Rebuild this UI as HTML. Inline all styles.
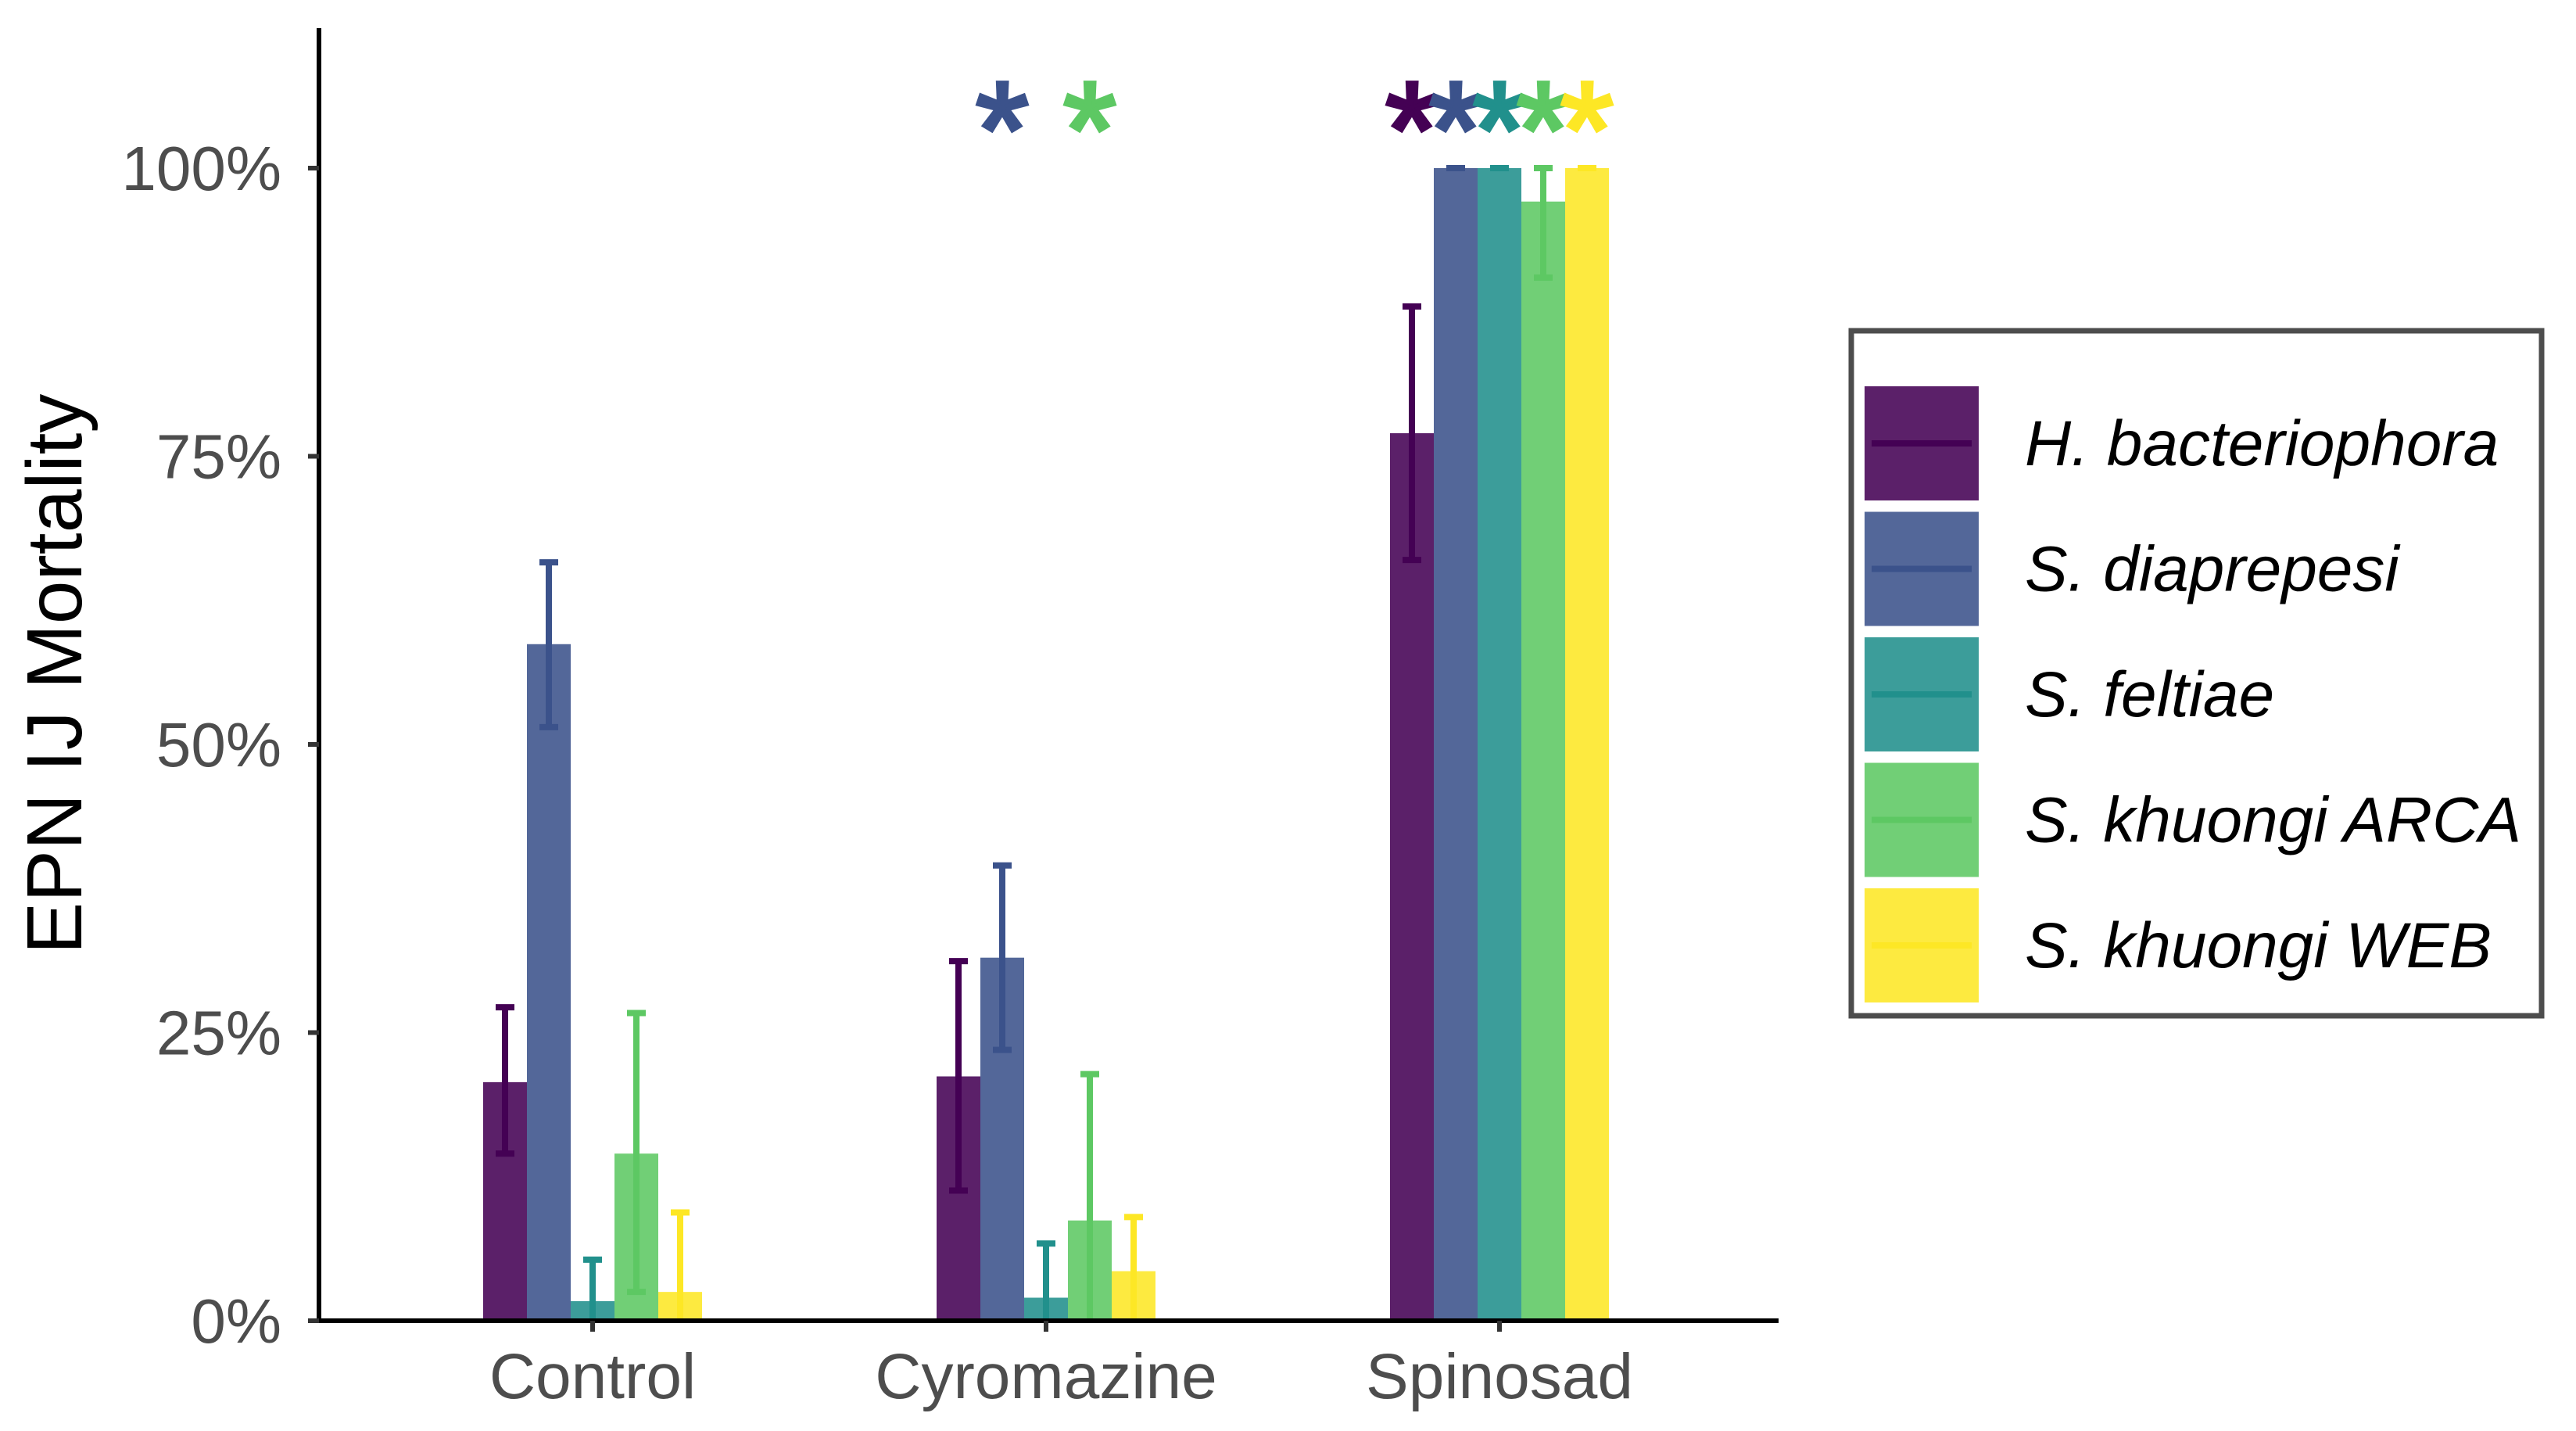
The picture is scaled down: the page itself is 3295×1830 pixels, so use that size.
<!DOCTYPE html>
<html><head><meta charset="utf-8"><style>
html,body{margin:0;padding:0;background:#fff;}
svg{display:block;font-family:"Liberation Sans",Arial,sans-serif;}
</style></head><body>
<svg id="chart" width="3295" height="1830" viewBox="0 0 3295 1830">
<g id="bars"></g>
<g id="axes"></g>
<text x="0" y="0" transform="translate(104,862) rotate(-90)" text-anchor="middle" font-size="100" fill="#000">EPN IJ Mortality</text>
<g id="legend">
<rect x="2380" y="423" width="883" height="876" fill="#fff" stroke="#4d4d4d" stroke-width="7"/>
</g>
</svg>
<script>
const categories = ["Control", "Cyromazine", "Spinosad"];
const species = ["H. bacteriophora", "S. diaprepesi", "S. feltiae", "S. khuongi ARCA", "S. khuongi WEB"];
const colors = ["#440154", "#3b528b", "#21908c", "#5dc863", "#fde725"];
const meanControl = [20.7, 58.7, 1.7, 14.5, 2.5];
const meanCyromazine = [21.2, 31.5, 2.0, 8.7, 4.3];
const meanSpinosad = [77.0, 100, 100, 97.1, 100];
const lowControl = [14.5, 51.5, 0, 2.5, 0];
const lowCyromazine = [11.3, 23.5, 0, 0, 0];
const lowSpinosad = [66.0, 100, 100, 90.5, 100];
const highControl = [27.2, 65.8, 5.3, 26.7, 9.4];
const highCyromazine = [31.2, 39.5, 6.7, 21.4, 9.0];
const highSpinosad = [88.0, 100, 100, 100, 100];
const signifCyromazine = [false, true, false, true, false];
const signifSpinosad = [true, true, true, true, true];
const signifControl = [false, false, false, false, false];
const yTicks = [0, 25, 50, 75, 100];
const yTickLabels = ["0%", "25%", "50%", "75%", "100%"];

const means = [meanControl, meanCyromazine, meanSpinosad];
const lows = [lowControl, lowCyromazine, lowSpinosad];
const highs = [highControl, highCyromazine, highSpinosad];
const sigs = [signifControl, signifCyromazine, signifSpinosad];

const NS = "http://www.w3.org/2000/svg";
const X0 = 408, X1 = 2275, Y0 = 1689, Y100 = 215;
const catX0 = 758, catStep = 580, barW = 56;
function y(v){ return Y0 - (v/100)*(Y0-Y100); }
function xCat(i){ return catX0 + i*catStep; }
function xBar(i,j){ return xCat(i) + (j-2)*barW; }
function mk(tag, attrs, parent){
  const e = document.createElementNS(NS, tag);
  for (const k in attrs) e.setAttribute(k, attrs[k]);
  parent.appendChild(e); return e;
}
const bars = document.getElementById("bars");
const axes = document.getElementById("axes");
const legend = document.getElementById("legend");
const lbox = legend.querySelector("rect");
lbox.setAttribute("x", 2368);

categories.forEach((c,i)=>{
  species.forEach((s,j)=>{
    const v = means[i][j];
    const r = mk("rect", {x: xBar(i,j)-barW/2, y: y(v), width: barW, height: y(0)-y(v), fill: colors[j], "fill-opacity": 0.88}, bars);
    
    
  });
  species.forEach((s,j)=>{
    const lo = Math.max(lows[i][j],0), hi = highs[i][j], cx = xBar(i,j);
    const g = mk("g", {stroke: colors[j], "stroke-width": 8, fill: "none"}, bars);
    
    
    mk("line", {x1: cx, x2: cx, y1: y(lo), y2: y(hi)}, g);
    mk("line", {x1: cx-12, x2: cx+12, y1: y(hi), y2: y(hi)}, g);
    if (lows[i][j] > 0) mk("line", {x1: cx-12, x2: cx+12, y1: y(lo), y2: y(lo)}, g);
  });
  species.forEach((s,j)=>{
    if (!sigs[i][j]) return;
    const t = mk("text", {x: xBar(i,j), y: 226, "text-anchor": "middle", "font-size": 175, fill: colors[j], stroke: colors[j], "stroke-width": 5}, bars);
    t.textContent = "*";
    
    
  });
});

const ya = mk("line", {x1: X0, x2: X0, y1: 36, y2: Y0+3, stroke: "#000", "stroke-width": 6}, axes);


const xa = mk("line", {x1: X0-3, x2: X1, y1: Y0, y2: Y0, stroke: "#000", "stroke-width": 6}, axes);


yTicks.forEach((v,k)=>{
  const tk = mk("line", {x1: X0-14, x2: X0, y1: y(v), y2: y(v), stroke: "#333", "stroke-width": 6}, axes);
  
  
  const t = mk("text", {x: 360, y: y(v)+28, "text-anchor": "end", "font-size": 80, fill: "#4d4d4d"}, axes);
  t.textContent = yTickLabels[k];
  
  
});
categories.forEach((c,i)=>{
  const tk = mk("line", {x1: xCat(i), x2: xCat(i), y1: Y0, y2: Y0+14, stroke: "#333", "stroke-width": 6}, axes);
  
  
  const t = mk("text", {x: xCat(i), y: 1788, "text-anchor": "middle", "font-size": 82, fill: "#4d4d4d"}, axes);
  t.textContent = c;
  
  
});

species.forEach((s,j)=>{
  const top = 494 + j*160.5;
  const g = mk("g", {}, legend);
  
  
  mk("rect", {x: 2385, y: top, width: 146, height: 146, fill: colors[j], "fill-opacity": 0.88}, g);
  mk("line", {x1: 2394, x2: 2522, y1: top+73, y2: top+73, stroke: colors[j], "stroke-width": 8}, g);
  const t = mk("text", {x: 2590, y: top+101, "font-size": 82, "font-style": "italic", fill: "#000"}, g);
  t.textContent = s;
  
  
});
</script>
</body></html>
